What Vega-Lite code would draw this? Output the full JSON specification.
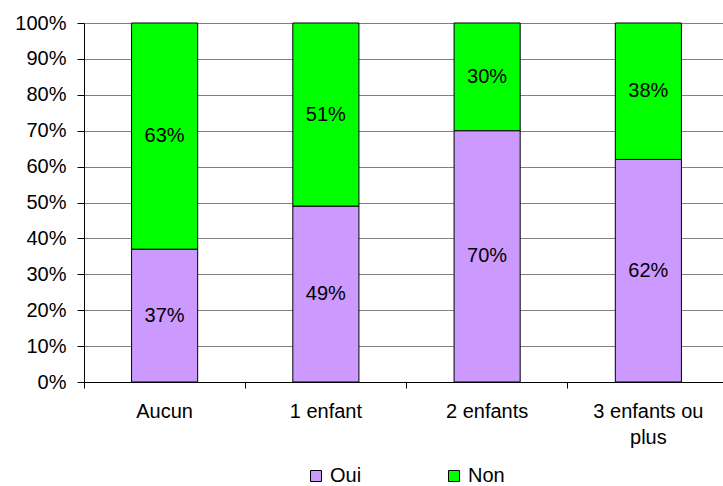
{
  "$schema": "https://vega.github.io/schema/vega-lite/v6.json",
  "width": 639,
  "height": 359,
  "autosize": "none",
  "padding": {"left": 84, "top": 23, "right": 0, "bottom": 104},
  "background": "white",
  "config": {
    "font": "Liberation Sans",
    "view": {"stroke": null},
    "axis": {"labelColor": "black", "labelFontSize": 20, "title": null}
  },
  "data": {
    "values": [
      {"enfants": "Aucun", "reponse": "Oui", "part": 0.37},
      {"enfants": "Aucun", "reponse": "Non", "part": 0.63},
      {"enfants": "1 enfant", "reponse": "Oui", "part": 0.49},
      {"enfants": "1 enfant", "reponse": "Non", "part": 0.51},
      {"enfants": "2 enfants", "reponse": "Oui", "part": 0.70},
      {"enfants": "2 enfants", "reponse": "Non", "part": 0.30},
      {"enfants": "3 enfants ou plus", "reponse": "Oui", "part": 0.62},
      {"enfants": "3 enfants ou plus", "reponse": "Non", "part": 0.38}
    ]
  },
  "transform": [
    {
      "stack": "part",
      "groupby": ["enfants"],
      "sort": [{"field": "reponse", "order": "descending"}],
      "as": ["bas", "haut"]
    },
    {"calculate": "(datum.bas + datum.haut) / 2", "as": "milieu"}
  ],
  "encoding": {
    "x": {
      "field": "enfants",
      "type": "nominal",
      "sort": null,
      "scale": {"range": [0, 645], "paddingInner": 0, "paddingOuter": 0},
      "axis": {
        "labelAngle": 0,
        "bandPosition": 0,
        "tickSize": 6,
        "tickColor": "black",
        "domainColor": "black",
        "labelPadding": 13,
        "labelLineHeight": 26,
        "labelLimit": 300,
        "labelExpr": "datum.label == '3 enfants ou plus' ? ['3 enfants ou', 'plus'] : datum.label"
      }
    },
    "y": {
      "type": "quantitative",
      "scale": {"domain": [0, 1], "nice": false},
      "axis": {
        "values": [0, 0.1, 0.2, 0.3, 0.4, 0.5, 0.6, 0.7, 0.8, 0.9, 1],
        "tickCount": 11,
        "labelOverlap": false,
        "format": ".0%",
        "grid": true,
        "gridColor": "#808080",
        "gridOpacity": 1,
        "domainColor": "black",
        "tickColor": "black",
        "tickSize": 7,
        "labelPadding": 11
      }
    }
  },
  "layer": [
    {
      "mark": {"type": "bar", "width": {"band": 0.41}, "stroke": "black", "strokeWidth": 1},
      "encoding": {
        "y": {"field": "bas"},
        "y2": {"field": "haut"},
        "color": {
          "field": "reponse",
          "type": "nominal",
          "scale": {"domain": ["Oui", "Non"], "range": ["#CC99FF", "#00FF00"]},
          "legend": {
            "title": null,
            "orient": "none",
            "direction": "horizontal",
            "legendX": 222,
            "legendY": 443,
            "symbolType": "square",
            "symbolSize": 121,
            "symbolStrokeColor": "black",
            "symbolStrokeWidth": 1,
            "labelFontSize": 20,
            "labelColor": "black",
            "labelOffset": 4,
            "columnPadding": 82
          }
        }
      }
    },
    {
      "mark": {"type": "text", "fontSize": 20, "color": "black"},
      "encoding": {
        "y": {"field": "milieu"},
        "text": {"field": "part", "type": "quantitative", "format": ".0%"}
      }
    }
  ]
}
